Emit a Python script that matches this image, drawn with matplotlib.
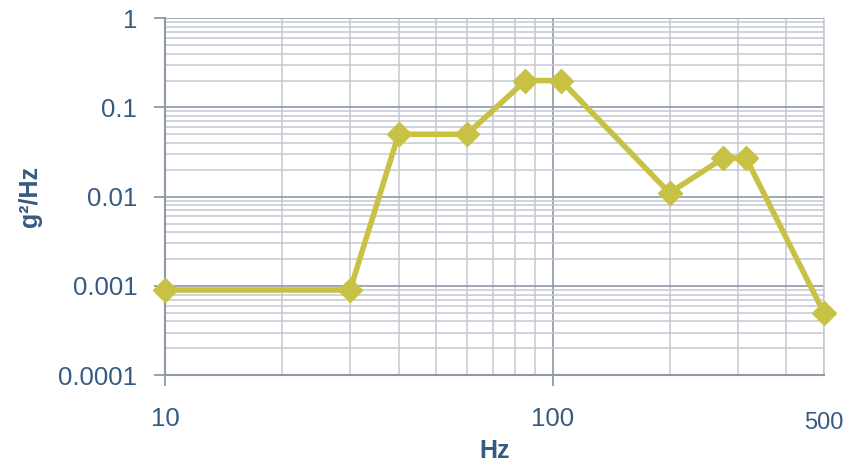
import matplotlib.pyplot as plt
from matplotlib.ticker import LogLocator, NullFormatter, FixedLocator

# PSD profile
freq = [10, 30, 40, 60, 85, 105, 200, 275, 315, 500]
psd = [0.0009, 0.0009, 0.05, 0.05, 0.2, 0.2, 0.011, 0.027, 0.027, 0.0005]
y_ticks = [0.0001, 0.001, 0.01, 0.1, 1]
y_labels = ['0.0001', '0.001', '0.01', '0.1', '1']
x_ticks = [10, 100]
x_labels = ['10', '100']

plt.rcParams['font.family'] = ['Liberation Sans', 'DejaVu Sans']
text_col = '#365A80'
minor_col = '#C3C8D0'
major_col = '#8E98A8'

fig = plt.figure(figsize=(8.6, 4.66), dpi=100)
ax = fig.add_axes([0.192, 0.195, 0.766, 0.766])

ax.set_xscale('log')
ax.set_yscale('log')
ax.set_xlim(10, 500)
ax.set_ylim(0.0001, 1)

# grid
ax.xaxis.set_minor_locator(LogLocator(base=10, subs=range(2, 10)))
ax.yaxis.set_minor_locator(LogLocator(base=10, subs=range(2, 10)))
ax.xaxis.set_minor_formatter(NullFormatter())
ax.yaxis.set_minor_formatter(NullFormatter())
ax.grid(which='minor', color=minor_col, linewidth=1.1)
ax.grid(which='major', color=major_col, linewidth=1.2)
ax.set_axisbelow(True)

ax.plot(freq, psd, color='#C8C244', linewidth=4, marker='D', markersize=12,
        zorder=3, clip_on=False)

ax.xaxis.set_major_locator(FixedLocator(x_ticks))
ax.set_xticklabels(x_labels)
ax.yaxis.set_major_locator(FixedLocator(y_ticks))
ax.set_yticklabels(y_labels)
ax.tick_params(which='major', length=8, width=1.3, color=major_col,
               labelsize=18.5, labelcolor=text_col, pad=12)
ax.tick_params(axis='x', pad=15)
ax.tick_params(which='minor', length=0)

ax.spines['top'].set_visible(False)
ax.spines['right'].set_color(minor_col)
ax.spines['right'].set_linewidth(1.1)
for s in ['left', 'bottom']:
    ax.spines[s].set_color(major_col)
    ax.spines[s].set_linewidth(1.5)

# the 500 label sits a bit lower in the original
ax.text(500, -0.135, '500', transform=ax.get_xaxis_transform(),
        ha='center', va='center', fontsize=17, color=text_col)

ax.set_xlabel('Hz', fontsize=18, fontweight='bold', color=text_col, labelpad=6)
ax.set_ylabel('g²/Hz', fontsize=18, fontweight='bold', color=text_col, labelpad=12)

fig.savefig('out.png', dpi=100)
